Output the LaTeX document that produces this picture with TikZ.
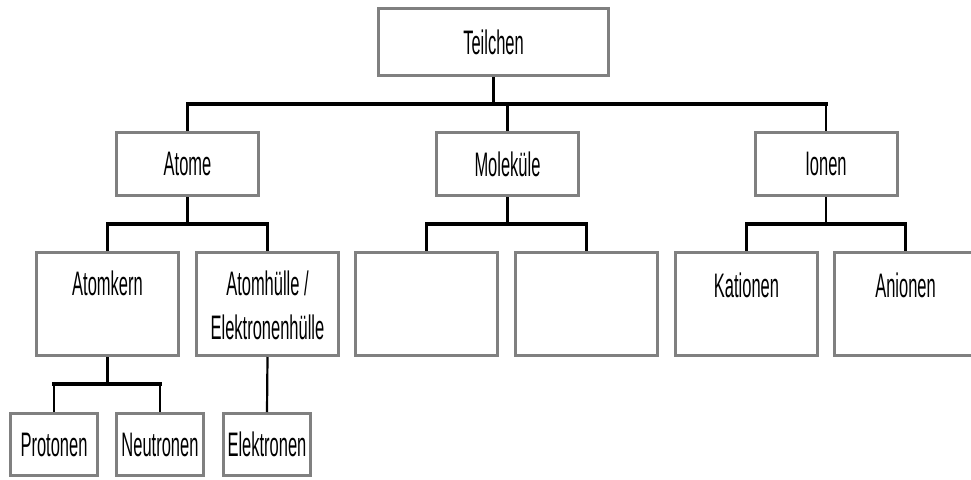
\documentclass[tikz,border=0pt]{standalone}
\usepackage{fontspec}
\setmainfont{Liberation Sans}[FakeStretch=0.485]
\usetikzlibrary{calc}
\definecolor{boxgray}{RGB}{128,128,128}
\begin{document}
\begin{tikzpicture}[x=1pt,y=-1pt,
  box/.style={draw=boxgray, line width=3pt, fill=white, inner sep=0pt,
    font=\fontsize{34}{44}\selectfont, align=center},
  topbox/.style={box, minimum width=230pt, minimum height=67pt},
  midbox/.style={box, minimum width=142pt, minimum height=63pt},
  lowbox/.style={box, minimum width=142pt, minimum height=103pt},
  leafbox/.style={box, minimum width=87pt, minimum height=62pt},
  lbl/.style={font=\fontsize{34}{44}\selectfont, align=center, inner sep=0pt, anchor=north},
  conn/.style={line width=2.2pt},
  hbar/.style={line width=3.5pt, line cap=rect}]
\clip (0,0) rectangle (971,479);
\fill[white] (0,0) rectangle (971,479);
% boxes
\node[topbox] (teil) at (493.5,42) {Teilchen};
\node[midbox] (atome) at (187.5,164) {Atome};
\node[midbox] (mol) at (507.5,164) {Moleküle};
\node[midbox] (ionen) at (826,164) {Ionen};
\node[lowbox] (kern) at (107.5,304) {};
\node[lowbox] (huelle) at (267.5,304) {};
\node[lowbox] (mA) at (426.5,304) {};
\node[lowbox] (mB) at (586.5,304) {};
\node[lowbox] (kat) at (746.5,304) {};
\node[lowbox] (an) at (905.5,304) {};
\node[leafbox] (prot) at (54,444.5) {Protonen};
\node[leafbox] (neut) at (160,444.5) {Neutronen};
\node[leafbox] (elek) at (267,444.5) {Elektronen};
% labels of the tall boxes
\node[lbl] (tkern) at ($(kern.north)+(0,20)$) {Atomkern};
\node[lbl] (thuelle) at ($(huelle.north)+(0,20)$) {Atomhülle /\\Elektronenhülle};
\node[lbl] (tkat) at ($(kat.north)+(0,21.5)$) {Kationen};
\node[lbl] (tan) at ($(an.north)+(0,21.5)$) {Anionen};
% bar levels
\coordinate (barA) at (0,104);
\coordinate (barB) at (0,224);
\coordinate (barC) at (0,384);
% level 1
\draw[conn] (teil.south) -- (teil.south |- barA);
\draw[hbar] (atome.north |- barA) -- (ionen.north |- barA);
\draw[conn] (atome.north |- barA) -- (atome.north);
\draw[conn] (mol.north |- barA) -- (mol.north);
\draw[conn] (ionen.north |- barA) -- (ionen.north);
% level 2: Atome
\draw[conn] (atome.south) -- (atome.south |- barB);
\draw[hbar] (kern.north |- barB) -- (huelle.north |- barB);
\draw[conn] (kern.north |- barB) -- (kern.north);
\draw[conn] (huelle.north |- barB) -- (huelle.north);
% level 2: Molekuele
\draw[conn] (mol.south) -- (mol.south |- barB);
\draw[hbar] (mA.north |- barB) -- (mB.north |- barB);
\draw[conn] (mA.north |- barB) -- (mA.north);
\draw[conn] (mB.north |- barB) -- (mB.north);
% level 2: Ionen
\draw[conn] (ionen.south) -- (ionen.south |- barB);
\draw[hbar] (kat.north |- barB) -- (an.north |- barB);
\draw[conn] (kat.north |- barB) -- (kat.north);
\draw[conn] (an.north |- barB) -- (an.north);
% level 3
\draw[conn] (kern.south) -- (kern.south |- barC);
\draw[hbar] (prot.north |- barC) -- (neut.north |- barC);
\draw[conn] (prot.north |- barC) -- (prot.north);
\draw[conn] (neut.north |- barC) -- (neut.north);
\draw[conn] (huelle.south) -- (elek.north);
\end{tikzpicture}
\end{document}
